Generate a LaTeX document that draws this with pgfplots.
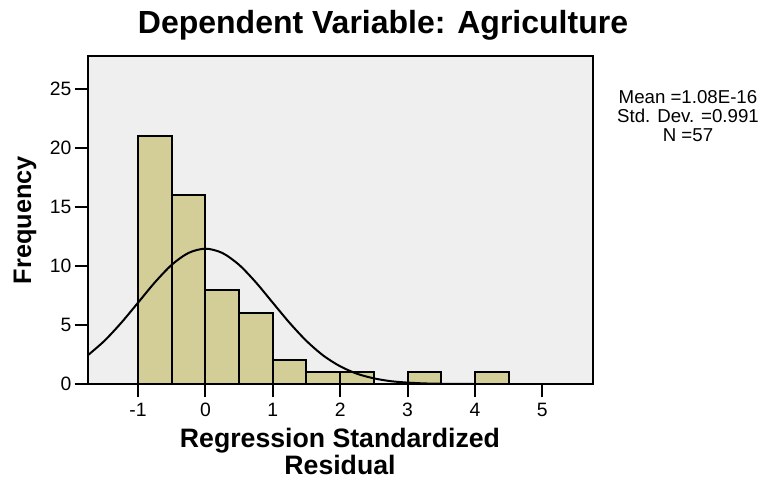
\documentclass[border=0pt]{standalone}
\usepackage{fontspec}
\setmainfont{Liberation Sans}
\usepackage{pgfplots}
\pgfplotsset{compat=1.18}
\definecolor{bg}{RGB}{239,239,239}
\definecolor{barfill}{RGB}{211,206,152}
\begin{document}
\begin{tikzpicture}
\useasboundingbox (-66pt,-72pt) rectangle (512.25pt,288pt);
\begin{axis}[
	at={(0,0)}, anchor=south west,
	scale only axis,
	width=378.75pt, height=246pt,
	xmin=-1.742, xmax=5.752,
	ymin=0, ymax=27.8,
	axis background/.style={fill=bg},
	axis line style={line width=1.5pt},
	axis on top,
	xtick={-1,0,1,2,3,4,5},
	xticklabels={-1,0,1,2,3,4,5},
	ytick={0,5,10,15,20,25},
	yticklabels={0,5,10,15,20,25},
	xtick pos=bottom, ytick pos=left,
	tick align=outside,
	major tick length=10pt,
	every tick/.style={black, line width=1.5pt},
	tick label style={font=\fontsize{14.5}{16}\selectfont},
	xticklabel style={yshift=-1pt},
	yticklabel style={xshift=1pt},
]
\addplot[ybar interval, fill=barfill, draw=black, line width=1.5pt]
coordinates {(-1,21) (-0.5,16) (0,8) (0.5,6) (1,2) (1.5,1) (2,1) (2.5,0) (3,1) (3.5,0) (4,1) (4.5,0)};
\addplot[smooth, black, line width=1.5pt, mark=none]
coordinates {(-1.75,2.41) (-1.5,3.65) (-1.25,5.18) (-1,6.89) (-0.75,8.61) (-0.5,10.10) (-0.25,11.11) (0,11.47) (0.25,11.11) (0.5,10.10) (0.75,8.61) (1,6.89) (1.25,5.18) (1.5,3.65) (1.75,2.41) (2,1.50) (2.25,0.87) (2.5,0.48) (2.75,0.24) (3,0.12) (3.25,0.05) (3.5,0.02) (3.75,0.01) (4,0) (4.5,0) (5,0) (5.75,0)};
\end{axis}
% title, axis labels and statistics box
\node[anchor=base, font=\bfseries\fontsize{24}{27}\selectfont] at (221.25pt,263.25pt) {Dependent Variable: Agriculture};
\node[anchor=south, inner sep=0pt, align=center, font=\bfseries\fontsize{20}{18.5}\selectfont] at (189pt,-68pt) {Regression Standardized\\Residual};
\node[rotate=90, font=\bfseries\fontsize{19}{22}\selectfont] at (-47.25pt,123pt) {Frequency};
\node[align=center, font=\fontsize{14}{14}\selectfont] at (450pt,201pt) {Mean =1.08E-16\\Std. Dev. =0.991\\N =57};
\end{tikzpicture}
\end{document}
